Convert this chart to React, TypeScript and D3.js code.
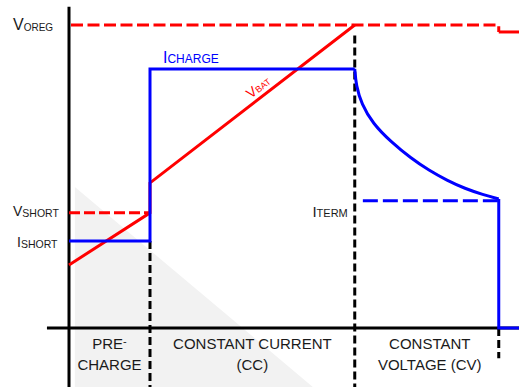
import React from "react";
import * as d3 from "d3";

// time in arbitrary units, values in % of full scale
const phaseBounds = [0, 18, 63.5, 95.5, 100];
const phaseLine1 = ["PRE", "CONSTANT CURRENT", "CONSTANT"];
const phaseLine2 = ["CHARGE", "(CC)", "VOLTAGE (CV)"];

const vOreg = 100;
const vOregDone = 97.7;
const vShort = 38;
const iShort = 28.7;
const iCharge = 85.5;
const iTerm = 42;

const vbatTime = [0, 18, 18, 63.5];
const vbatValue = [20.8, 38, 47.9, 100];

const ccTime = [0, 18, 18, 63.5];
const ccValue = [28.7, 28.7, 85.5, 85.5];

const cvTime = [63.5, 63.8, 65, 67.5, 71.5, 76, 80, 84, 88, 92, 95.5];
const cvValue = [85.5, 80, 74, 67.5, 61.5, 56, 52, 48.7, 46, 44, 42.6];

const termTime = [95.5, 95.5, 100];
const termValue = [42.6, 0, 0];

// light shaded wedge behind the precharge area
const shadeTime = [1.3, 54.2, 1.3];
const shadeValue = [46.5, -19.5, -19.5];

const W = 519;
const H = 387;
const RED = "#ff0000";
const BLUE = "#0000ff";
const INK = "#1a1a1a";
const FONT = "'Liberation Sans', Arial, sans-serif";

export default function App() {
  const x = d3.scaleLinear().domain([0, 100]).range([69, 519]);
  const y = d3.scaleLinear().domain([0, 100]).range([328, 25]);

  const pts = (t: number[], v: number[]) => t.map((d, i) => [d, v[i]] as [number, number]);
  const lin = d3.line<[number, number]>().x((d) => x(d[0])).y((d) => y(d[1]));
  const smooth = d3
    .line<[number, number]>()
    .x((d) => x(d[0]))
    .y((d) => y(d[1]))
    .curve(d3.curveBasis);

  const [t0, tPre, tCc, tTerm, tEnd] = phaseBounds;
  const bottom = y.invert(H);

  const centers = [
    (x(t0) + x(tPre)) / 2,
    (x(tPre) + x(tCc)) / 2,
    (x(tCc) + x(tTerm)) / 2 + 3,
  ];

  const angle = (Math.atan2(y(vbatValue[2]) - y(vbatValue[3]), x(vbatTime[3]) - x(vbatTime[2])) * 180) / Math.PI;

  return (
    <svg
      width={W}
      height={H}
      style={{ position: "absolute", left: 0, top: 0, background: "#fff" }}
      fontFamily={FONT}
    >
      <path d={lin(pts(shadeTime, shadeValue)) + "Z"} fill="#f2f2f2" />

      {/* axes */}
      <line x1={x(t0)} x2={x(t0)} y1={y(106)} y2={H} stroke="#000" strokeWidth={3} />
      <line x1={x(-4.9)} x2={W} y1={y(0)} y2={y(0)} stroke="#000" strokeWidth={3} />

      {/* phase separators */}
      <path d={lin([[tPre, iShort], [tPre, bottom]])!} stroke="#000" strokeWidth={3} strokeDasharray="8,4" fill="none" />
      <path d={lin([[tCc, 96.5], [tCc, bottom]])!} stroke="#000" strokeWidth={3} strokeDasharray="8,4" fill="none" />
      <path d={lin([[tTerm, 0], [tTerm, -10]])!} stroke="#000" strokeWidth={3} strokeDasharray="8,4" fill="none" />

      {/* regulation voltage */}
      <path
        d={lin([[t0, vOreg], [tTerm, vOreg], [tTerm, vOregDone]])!}
        stroke={RED}
        strokeWidth={3}
        strokeDasharray="12,4.5"
        strokeDashoffset={-2}
        fill="none"
      />
      <path d={lin([[tTerm, vOregDone], [tEnd, vOregDone]])!} stroke={RED} strokeWidth={3} fill="none" />

      {/* short threshold */}
      <path d={lin([[t0, vShort], [tPre, vShort]])!} stroke={RED} strokeWidth={3} strokeDasharray="11,4" fill="none" />

      {/* termination current */}
      <path d={lin([[65.3, iTerm], [tTerm, iTerm]])!} stroke={BLUE} strokeWidth={3} strokeDasharray="15,5" fill="none" />

      {/* battery voltage */}
      <path d={lin(pts(vbatTime, vbatValue))!} stroke={RED} strokeWidth={3} fill="none" />

      {/* charge current */}
      <path d={lin(pts(ccTime, ccValue))!} stroke={BLUE} strokeWidth={3} fill="none" strokeLinejoin="miter" />
      <path d={smooth(pts(cvTime, cvValue))!} stroke={BLUE} strokeWidth={3} fill="none" />
      <path d={lin(pts(termTime, termValue))!} stroke={BLUE} strokeWidth={3} fill="none" />

      {/* level labels */}
      <text x={x(t0) - 56} y={y(vOreg) + 5} fill={INK} fontSize={16}>
        V<tspan fontSize={10} dy={1}>OREG</tspan>
      </text>
      <text x={x(t0) - 56} y={y(vShort) + 3} fill={INK} fontSize={14}>
        V<tspan fontSize={10.5} dy={1}>SHORT</tspan>
      </text>
      <text x={x(t0) - 52} y={y(iShort) + 6} fill={INK} fontSize={14}>
        I<tspan fontSize={10.5} dy={1}>SHORT</tspan>
      </text>
      <text x={x(tPre) + 13} y={y(iCharge) - 6} fill={BLUE} fontSize={16}>
        I<tspan fontSize={12}>CHARGE</tspan>
      </text>
      <text x={x(tCc) - 7} y={y(iTerm) + 16} fill={INK} fontSize={15} textAnchor="end">
        I<tspan fontSize={11}>TERM</tspan>
      </text>
      <text
        transform={`translate(${x(40.4)},${y(75.6)}) rotate(${-angle})`}
        fill={RED}
        fontSize={14}
      >
        V<tspan fontSize={9}>BAT</tspan>
      </text>

      {/* phase labels */}
      {phaseLine1.map((s, i) => (
        <text key={"a" + i} x={centers[i]} y={349} textAnchor="middle" fill={INK} fontSize={15}>
          {s}
          {i === 0 ? (
            <tspan dy={-4} fontSize={11}>-</tspan>
          ) : null}
        </text>
      ))}
      {phaseLine2.map((s, i) => (
        <text key={"b" + i} x={centers[i]} y={370} textAnchor="middle" fill={INK} fontSize={15}>
          {s}
        </text>
      ))}
    </svg>
  );
}
